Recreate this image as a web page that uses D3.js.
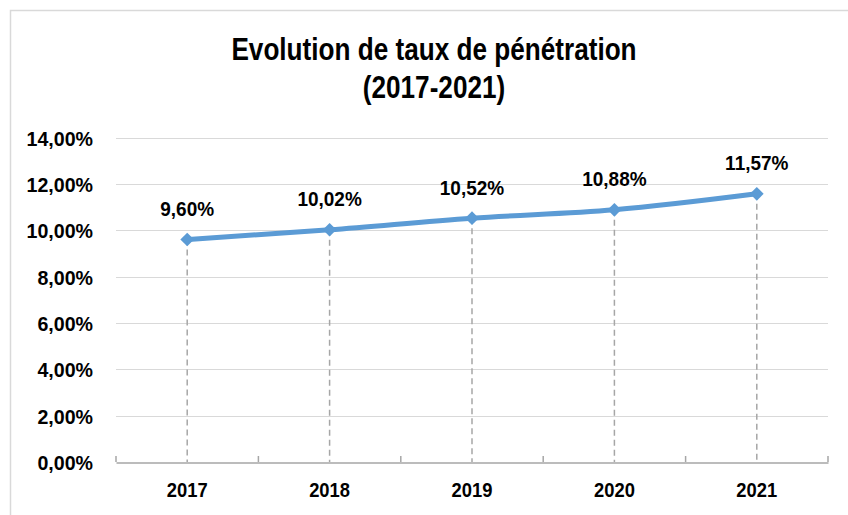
<!DOCTYPE html>
<html><head><meta charset="utf-8">
<script src="https://cdn.jsdelivr.net/npm/d3@7"></script>
<style>body{margin:0;background:#fff}svg{display:block}</style>
</head><body>
<script>
const categories = ["2017","2018","2019","2020","2021"];
const values = [9.60, 10.02, 10.52, 10.88, 11.57];
const labels = ["9,60%","10,02%","10,52%","10,88%","11,57%"];
const yTicks = [0,2,4,6,8,10,12,14];
const titleLines = ["Evolution de taux de pénétration","(2017-2021)"];

const W=848,H=515;
const font='"Liberation Sans",Arial,sans-serif';
const svg=d3.select("body").append("svg").attr("width",W).attr("height",H);
svg.append("rect").attr("width",W).attr("height",H).attr("fill","#fff");
svg.append("rect").attr("x",10.5).attr("y",10.5).attr("width",W+20).attr("height",H+20)
  .attr("fill","none").attr("stroke","#d9d9d9").attr("stroke-width",1.5);

const x=d3.scaleBand().domain(categories).range([116,828]);
const y=d3.scaleLinear().domain([0,14]).range([462,137.5]);
const cx=c=>x(c)+x.bandwidth()/2;

// title
svg.append("g").selectAll("text").data(titleLines).join("text")
  .attr("transform",(d,i)=>`translate(434,${60+i*38}) scale(0.83,1)`).attr("text-anchor","middle")
  .attr("font-family",font).attr("font-weight","bold").attr("font-size",31.5).attr("fill","#000")
  .text(d=>d);

// gridlines
svg.append("g").selectAll("line").data(yTicks.filter(t=>t>0)).join("line")
  .attr("x1",116).attr("x2",828).attr("y1",d=>Math.round(y(d))+0.5).attr("y2",d=>Math.round(y(d))+0.5)
  .attr("stroke","#d9d9d9").attr("stroke-width",1.2);

// y axis labels
const fmt=d=>d3.format(".2f")(d).replace(".",",")+"%";
const yAxis=svg.append("g").attr("transform","translate(116,0)")
  .call(d3.axisLeft(y).tickValues(yTicks).tickSize(0).tickFormat(fmt));
yAxis.select(".domain").remove();
yAxis.selectAll("text").attr("x",null).attr("dy",null)
  .attr("transform","translate(-23,7.5) scale(0.98,1)")
  .attr("font-family",font).attr("font-weight","bold").attr("font-size",20).attr("fill","#000");

// drop lines
svg.append("g").selectAll("line").data(values).join("line")
  .attr("x1",(d,i)=>cx(categories[i])).attr("x2",(d,i)=>cx(categories[i]))
  .attr("y1",d=>y(d)).attr("y2",y(0))
  .attr("stroke","#a6a6a6").attr("stroke-width",1.5).attr("stroke-dasharray","6,4");

// x axis
const xAxis=svg.append("g").attr("transform",`translate(0,${Math.round(y(0))+0.5})`)
  .call(d3.axisBottom(x).tickSize(0));
xAxis.select(".domain").attr("stroke","#a6a6a6").attr("stroke-width",1.5);
xAxis.selectAll("text").attr("y",null).attr("dy",null)
  .attr("transform","translate(0,34) scale(0.92,1)")
  .attr("font-family",font).attr("font-weight","bold").attr("font-size",20).attr("fill","#000");
const bounds=[...categories.map(c=>x(c)), 828];
svg.append("g").selectAll("line").data(bounds).join("line")
  .attr("x1",d=>d).attr("x2",d=>d).attr("y1",y(0)-6).attr("y2",y(0))
  .attr("stroke","#a6a6a6").attr("stroke-width",1.5);

// line
const pts=values.map((v,i)=>[cx(categories[i]),y(v)]);
svg.append("path").datum(pts).attr("d",d3.line().curve(d3.curveMonotoneX))
  .attr("fill","none").attr("stroke","#5b9bd5").attr("stroke-width",5).attr("stroke-linecap","round");
svg.append("g").selectAll("path").data(pts).join("path")
  .attr("transform",d=>`translate(${d[0]},${d[1]})`)
  .attr("d",d3.symbol().type(d3.symbolDiamond2).size(120)).attr("fill","#5b9bd5");

// data labels
svg.append("g").selectAll("text").data(pts).join("text")
  .attr("transform",d=>`translate(${d[0]},${d[1]-23.5}) scale(0.95,1)`).attr("text-anchor","middle")
  .attr("font-family",font).attr("font-weight","bold").attr("font-size",20).attr("fill","#000")
  .text((d,i)=>labels[i]);
</script>
</body></html>
